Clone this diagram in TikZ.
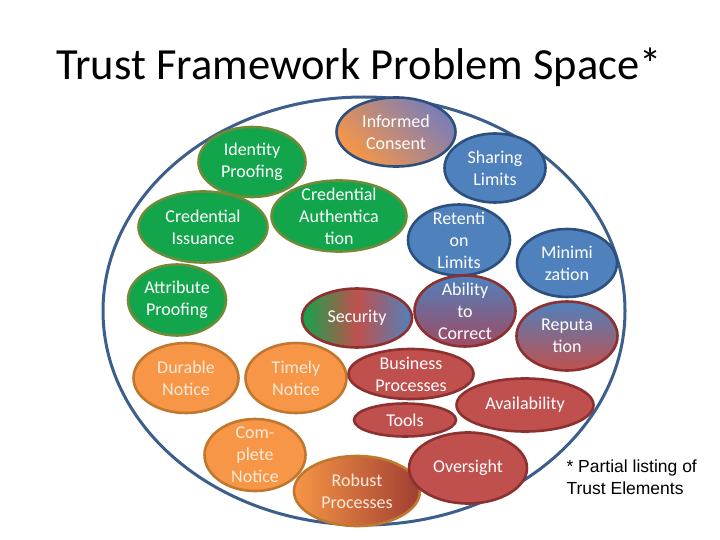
\documentclass[tikz,border=0pt]{standalone}
\usepackage{fontspec}
\setmainfont{Carlito}
\newfontfamily\notefont{Liberation Sans}
\usetikzlibrary{shapes.geometric}
\definecolor{RimBlue}{HTML}{3B5E8C}
\definecolor{LeafGreen}{HTML}{12A54B}
\definecolor{OliveRim}{HTML}{6F8B3A}
\definecolor{Tangerine}{HTML}{F79646}
\definecolor{RustRim}{HTML}{C0782E}
\definecolor{SkyBlue}{HTML}{4F81BD}
\definecolor{NavyRim}{HTML}{2D4F7E}
\definecolor{BrickRed}{HTML}{C0504D}
\definecolor{MaroonRim}{HTML}{8C3030}
\definecolor{Plum}{HTML}{A04A62}
\definecolor{Lavender}{HTML}{7A7DB8}
\definecolor{DeepRust}{HTML}{A03E32}
\definecolor{CreamText}{HTML}{FDEADA}

\tikzset{
  bubble/.style={ellipse,draw,line width=2.6pt,inner sep=-9pt,align=center,
    text=white,font=\fontsize{18}{22}\selectfont},
  greenbub/.style={bubble,fill=LeafGreen,draw=OliveRim},
  orangebub/.style={bubble,fill=Tangerine,draw=RustRim,text=CreamText},
  bluebub/.style={bubble,fill=SkyBlue,draw=NavyRim},
  redbub/.style={bubble,fill=BrickRed,draw=MaroonRim},
}

\begin{document}
\begin{tikzpicture}[x=1pt,y=-1pt]
  \useasboundingbox (0,0) rectangle (720,540);
  \node[font=\fontsize{44.5}{52}\selectfont] (title) at (359,67) {Trust Framework Problem Space*};
  % outer problem space
  \node[ellipse,draw=RimBlue,line width=3pt,minimum width=522pt,minimum height=428pt] (space) at (364,311) {};

  % identity and credentials
  \node[greenbub,minimum width=107pt,minimum height=70pt] (idproof) at (252,162) {Identity\\Proofing};
  \node[greenbub,minimum width=129pt,minimum height=71pt] (credissue) at (203,227) {Credential\\Issuance};
  \node[greenbub,minimum width=135pt,minimum height=71pt] (credauth) at (339,216) {Credential\\Authentica\\tion};
  \node[greenbub,minimum width=98pt,minimum height=71pt] (attrproof) at (177,300) {Attribute\\Proofing};

  % notice
  \node[orangebub,minimum width=105pt,minimum height=70pt] (durable) at (186,378) {Durable\\Notice};
  \node[orangebub,minimum width=101pt,minimum height=70pt] (timely) at (296,378) {Timely\\Notice};
  \node[orangebub,minimum width=101pt,minimum height=72pt] (complete) at (255,455) {Com-\\plete\\Notice};
  \node[bubble,left color=Tangerine,right color=DeepRust,draw=RustRim,text=CreamText,
    minimum width=126pt,minimum height=70pt] (robust) at (357,491) {Robust\\Processes};

  % privacy
  \node[bubble,bottom color=Tangerine,top color=Lavender,shading angle=-45,draw=NavyRim,
    minimum width=119pt,minimum height=69pt] (consent) at (396,132) {Informed\\Consent};
  \node[bluebub,minimum width=101pt,minimum height=69pt] (sharing) at (495,168) {Sharing\\Limits};
  \node[bluebub,minimum width=102pt,minimum height=71pt] (retention) at (459,240) {Retenti\\on\\Limits};
  \node[bluebub,minimum width=100pt,minimum height=68pt] (minim) at (567,263) {Minimi\\zation};

  % mixed
  \node[bubble,left color=LeafGreen,right color=SkyBlue,middle color=BrickRed,draw=MaroonRim,
    minimum width=110pt,minimum height=59pt] (security) at (357,318) {Security};
  \node[bubble,top color=SkyBlue,bottom color=Plum,draw=MaroonRim,
    minimum width=101pt,minimum height=71pt] (correct) at (465,311) {Ability\\to\\Correct};
  \node[bubble,top color=SkyBlue,bottom color=BrickRed,draw=MaroonRim,
    minimum width=101pt,minimum height=69pt] (reput) at (567,336) {Reputa\\tion};

  % operations
  \node[redbub,minimum width=125pt,minimum height=50pt] (business) at (411,374) {Business\\Processes};
  \node[redbub,minimum width=137pt,minimum height=53pt] (avail) at (525,405) {Availability};
  \node[redbub,minimum width=102pt,minimum height=33pt] (tools) at (405,420) {Tools};
  \node[redbub,minimum width=118pt,minimum height=71pt] (oversight) at (468,468) {Oversight};

  \node[anchor=north west,align=left,font=\notefont\fontsize{17.5}{22}\selectfont] (note)
    at (563,456) {* Partial listing of\\Trust Elements};
\end{tikzpicture}
\end{document}
